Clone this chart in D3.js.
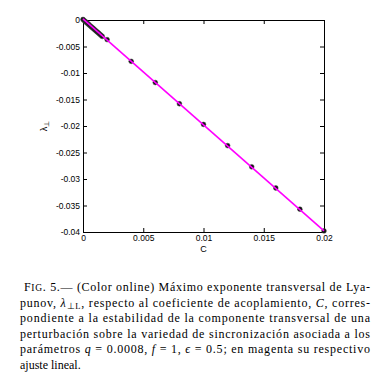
<!DOCTYPE html>
<html>
<head>
<meta charset="utf-8">
<script src="https://d3js.org/d3.v7.min.js"></script>
<style>
body { margin: 0; background: #fff; }
</style>
</head>
<body>
<script>
// data
var cValues = [0, 0.0001, 0.0002, 0.0003, 0.0004, 0.0005, 0.0006, 0.0007, 0.0008,
    0.0009, 0.001, 0.0011, 0.0012, 0.0013, 0.0014, 0.0015, 0.0016,
    0.002, 0.004, 0.006, 0.008, 0.01, 0.012, 0.014, 0.016, 0.018, 0.02];
var lambdaValues = [0.0001, -0.0001, -0.0003, -0.0005, -0.0007, -0.0009, -0.0011, -0.0013, -0.0015,
    -0.0017, -0.0019, -0.0021, -0.0023, -0.0025, -0.0027, -0.0029, -0.0031,
    -0.0037, -0.0078, -0.0118, -0.0158, -0.0197, -0.0237, -0.0277, -0.0317, -0.0357, -0.0398];
var fitC = [0, 0.02];
var fitLambda = [0.0002, -0.0398];
var xTicks = [0, 0.005, 0.01, 0.015, 0.02];
var xTickLabels = ["0", "0.005", "0.01", "0.015", "0.02"];
var yTicks = [0, -0.005, -0.01, -0.015, -0.02, -0.025, -0.03, -0.035, -0.04];
var yTickLabels = ["0", "-0.005", "-0.01", "-0.015", "-0.02", "-0.025", "-0.03", "-0.035", "-0.04"];

var width = 391, height = 377;
var mLeft = 83, mRight = 324, mTop = 20, mBottom = 232;

var svg = d3.select("body").append("svg")
    .attr("width", width).attr("height", height);

var x = d3.scaleLinear().domain([0, 0.02]).range([mLeft, mRight]);
var y = d3.scaleLinear().domain([-0.04, 0]).range([mBottom, mTop]);

var tickFont = "'Liberation Sans', Arial, sans-serif";

// axes, MATLAB style ticks pointing in
svg.append("g").attr("transform", "translate(0," + mBottom + ")")
    .call(d3.axisBottom(x).tickValues(xTicks).tickSizeInner(-4).tickSizeOuter(0).tickPadding(3)
        .tickFormat(function(d, i) { return xTickLabels[i]; }));
svg.append("g").attr("transform", "translate(0," + mTop + ")")
    .call(d3.axisTop(x).tickValues(xTicks).tickSizeInner(-4).tickSizeOuter(0).tickFormat(""));
svg.append("g").attr("transform", "translate(" + mLeft + ",0)")
    .call(d3.axisLeft(y).tickValues(yTicks).tickSizeInner(-4).tickSizeOuter(0).tickPadding(3)
        .tickFormat(function(d, i) { return yTickLabels[i]; }));
svg.append("g").attr("transform", "translate(" + mRight + ",0)")
    .call(d3.axisRight(y).tickValues(yTicks).tickSizeInner(-4).tickSizeOuter(0).tickFormat(""));

svg.selectAll(".domain").attr("stroke", "#000").attr("stroke-width", 1);
svg.selectAll(".tick line").attr("stroke", "#000");
svg.selectAll(".tick text").attr("fill", "#000")
    .style("font-family", tickFont).style("font-size", "8.5px");

// axis labels
svg.append("text").attr("x", (mLeft + mRight) / 2).attr("y", 252)
    .attr("text-anchor", "middle")
    .style("font-family", tickFont).style("font-size", "9px")
    .text("C");
var yl = svg.append("text")
    .attr("transform", "translate(47," + ((mTop + mBottom) / 2) + ") rotate(-90)")
    .attr("text-anchor", "middle")
    .style("font-family", tickFont).style("font-size", "9px");
yl.append("tspan").text("\u03bb");
yl.append("tspan").attr("dy", 2).style("font-size", "7px").text("\u22a5");

// data points
svg.selectAll("circle.pt").data(cValues).enter().append("circle")
    .attr("class", "pt")
    .attr("cx", function(d) { return x(d); })
    .attr("cy", function(d, i) { return y(lambdaValues[i]); })
    .attr("r", 2.4)
    .attr("fill", "#111").attr("stroke", "#444").attr("stroke-width", 0.5);

// linear fit
var line = d3.line()
    .x(function(d) { return x(d); })
    .y(function(d, i) { return y(fitLambda[i]); });
svg.append("path").datum(fitC).attr("d", line)
    .attr("fill", "none").attr("stroke", "#ff00ff").attr("stroke-width", 1.6);

// caption
var capLines = [
    { x: 24, w: 346, parts: [["F", ""], ["IG", "sc"], [". 5.\u2014 (Color online) M\u00e1ximo exponente transversal de Lya-", ""]] },
    { x: 20, w: 350, parts: [["punov, ", ""], ["\u03bb", "i"], ["\u22a5L", "sub"], [", respecto al coeficiente de acoplamiento, ", ""], ["C", "i"], [", corres-", ""]] },
    { x: 20, w: 350, parts: [["pondiente a la estabilidad de la componente transversal de una", ""]] },
    { x: 20, w: 350, parts: [["perturbaci\u00f3n sobre la variedad de sincronizaci\u00f3n asociada a los", ""]] },
    { x: 20, w: 350, parts: [["par\u00e1metros ", ""], ["q", "i"], [" = 0.0008, ", ""], ["f", "i"], [" = 1, ", ""], ["\u03f5", "i"], [" = 0.5; en magenta su respectivo", ""]] },
    { x: 20, w: 0, parts: [["ajuste lineal.", ""]] }
];
capLines.forEach(function(ln, i) {
    var t = svg.append("text")
        .attr("x", ln.x).attr("y", 291 + i * 15.6)
        .style("font-family", "'Liberation Serif', serif").style("font-size", "12px")
        .attr("fill", "#000");
    if (ln.w) t.attr("textLength", ln.w).attr("lengthAdjust", "spacing");
    var prevSub = false;
    ln.parts.forEach(function(p) {
        var s = t.append("tspan").text(p[0]);
        if (p[1] === "i") s.style("font-style", "italic");
        if (p[1] === "sc") s.style("font-size", "9.5px");
        if (p[1] === "sub") { s.attr("dy", 2).style("font-size", "8.5px"); prevSub = true; }
        else if (prevSub) { s.attr("dy", -2); prevSub = false; }
    });
});
</script>
</body>
</html>
